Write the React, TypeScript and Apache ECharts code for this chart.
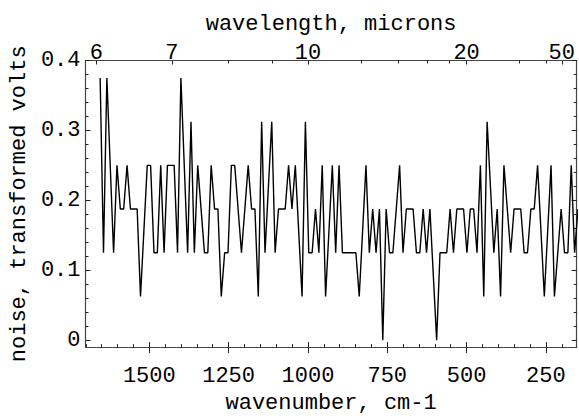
import React, { useEffect, useRef } from "react";
import * as echarts from "echarts";

// ---- data ----
// sample grid of the spectrum (wavenumber, cm-1)
const START_WAVENUMBER = 1654.9;
const STEP_WAVENUMBER = 10.605;
// indices of the polyline vertices on the sample grid
const sampleIndex = [
  0, 1, 2, 4, 5, 6, 7, 8, 9, 11, 12, 14, 15, 16, 17, 18, 19, 20, 22, 23, 24, 26, 27, 28, 29,
  31, 32, 33, 34, 35, 36, 37, 38, 39, 40, 42, 44, 45, 46, 47, 48, 49, 51, 52, 53, 55, 56, 57,
  58, 60, 61, 62, 63, 64, 65, 66, 67, 69, 70, 71, 72, 76, 77, 79, 80, 81, 82, 83, 84, 85, 86,
  87, 89, 90, 91, 93, 94, 95, 96, 97, 98, 100, 101, 103, 104, 105, 106, 108, 109, 110, 111,
  112, 113, 114, 115, 117, 118, 119, 120, 122, 123, 125, 126, 127, 128, 129, 130, 132, 134,
  135, 137, 138, 139, 140, 141, 142,
];
// noise, transformed volts
const noiseValues = [
  0.375, 0.125, 0.375, 0.125, 0.25, 0.1875, 0.1875, 0.25, 0.1875, 0.1875, 0.0625, 0.25, 0.25,
  0.125, 0.125, 0.25, 0.125, 0.25, 0.25, 0.125, 0.375, 0.125, 0.3125, 0.125, 0.25,
  0.125, 0.125, 0.25, 0.1875, 0.1875, 0.0625, 0.125, 0.125, 0.25, 0.25, 0.125, 0.25, 0.1875,
  0.1875, 0.0625, 0.3125, 0.125, 0.3125, 0.125, 0.1875, 0.1875, 0.25, 0.1875,
  0.25, 0.0625, 0.3125, 0.125, 0.125, 0.1875, 0.125, 0.25, 0.0625, 0.25, 0.125, 0.25, 0.125,
  0.125, 0.0625, 0.25, 0.125, 0.1875, 0.125, 0.1875, 0, 0.1875, 0.125,
  0.125, 0.25, 0.125, 0.1875, 0.1875, 0.125, 0.125, 0.1875, 0.125, 0.1875, 0, 0.125, 0.125,
  0.1875, 0.125, 0.1875, 0.1875, 0.125, 0.1875, 0.1875,
  0.125, 0.25, 0.0625, 0.3125, 0.125, 0.1875, 0.0625, 0.25, 0.125, 0.1875, 0.1875, 0.125,
  0.125, 0.1875, 0.1875, 0.25, 0.0625, 0.25,
  0.0625, 0.1875, 0.125, 0.125, 0.25, 0.125, 0.1875,
];

// axis ranges and ticks
const X_MIN = 153;
const X_MAX = 1701;
const Y_MIN = -0.01;
const Y_MAX = 0.4;
const wavenumberLabels = [1500, 1250, 1000, 750, 500, 250];
const wavelengthLabels = [6, 7, 10, 20, 50];
const wavelengthMinor = [8, 9, 12, 14, 16, 18, 30, 40];
const voltLabels = [0, 0.1, 0.2, 0.3, 0.4];

const FONT = "'Liberation Mono', 'DejaVu Sans Mono', monospace";
const FS = 22;

export default function App() {
  const ref = useRef<HTMLDivElement>(null);

  useEffect(() => {
    if (!ref.current) return;
    const chart = echarts.init(ref.current, undefined, { renderer: "svg" });

    const data = sampleIndex.map((i, k) => [
      START_WAVENUMBER - STEP_WAVENUMBER * i,
      noiseValues[k],
    ]);

    const wavenumberMinor: number[] = [];
    for (let v = 200; v <= 1700; v += 50) wavenumberMinor.push(v);
    const voltMinor: number[] = [];
    for (let k = 0; k <= 20; k++) voltMinor.push(Math.round(k * 2) / 100);

    const topMajor = wavelengthLabels.map((l) => 10000 / l);
    const topMinor = wavelengthMinor.map((l) => 10000 / l);

    const baseX = {
      type: "value",
      min: X_MIN,
      max: X_MAX,
      inverse: true,
      splitLine: { show: false },
      axisLine: { show: false, onZero: false },
      axisLabel: { show: false },
    };
    const baseY = {
      type: "value",
      min: Y_MIN,
      max: Y_MAX,
      splitLine: { show: false },
      axisLine: { show: false, onZero: false },
      axisLabel: { show: false },
    };
    const lineStyle = { color: "#222", width: 1 };
    const frameLine = { show: true, onZero: false, lineStyle: { color: "#444", width: 1.2 } };
    const textStyle = { fontFamily: FONT, fontSize: FS, color: "#000" };

    chart.setOption({
      animation: false,
      grid: { left: 83.3, right: 2.3, top: 60.5, bottom: 53.3, containLabel: false },
      xAxis: [
        {
          ...baseX,
          position: "bottom",
          axisLine: frameLine,
          name: "wavenumber, cm-1",
          nameLocation: "middle",
          nameGap: 32,
          nameTextStyle: textStyle,
          axisTick: { show: true, inside: false, length: 6, customValues: wavenumberLabels, lineStyle },
          axisLabel: {
            show: true,
            customValues: wavenumberLabels,
            margin: 18,
            ...textStyle,
            formatter: (v: number) => String(Math.round(v)),
          },
        },
        {
          ...baseX,
          position: "bottom",
          axisTick: { show: true, inside: true, length: 5, customValues: wavenumberLabels, lineStyle },
        },
        {
          ...baseX,
          position: "bottom",
          axisTick: { show: true, inside: true, length: 3, customValues: wavenumberMinor, lineStyle },
        },
        {
          ...baseX,
          position: "top",
          axisLine: frameLine,
          name: "wavelength, microns",
          nameLocation: "middle",
          nameGap: 25,
          nameTextStyle: textStyle,
          axisTick: { show: true, inside: true, length: 4, customValues: topMajor, lineStyle },
          axisLabel: {
            show: true,
            customValues: topMajor,
            margin: -4,
            ...textStyle,
            formatter: (v: number) => String(Math.round(10000 / v)),
          },
        },
        {
          ...baseX,
          position: "top",
          axisTick: { show: true, inside: true, length: 3, customValues: topMinor, lineStyle },
        },
      ],
      yAxis: [
        {
          ...baseY,
          position: "left",
          axisLine: frameLine,
          name: "noise, transformed volts",
          nameLocation: "middle",
          nameGap: 52,
          nameRotate: 90,
          nameTextStyle: textStyle,
          axisTick: { show: true, inside: true, length: 5, customValues: voltLabels, lineStyle },
          axisLabel: {
            show: true,
            customValues: voltLabels,
            margin: 5,
            ...textStyle,
            formatter: (v: number) => (v === 0 ? "0" : v.toFixed(1)),
          },
        },
        {
          ...baseY,
          position: "left",
          axisTick: { show: true, inside: true, length: 3, customValues: voltMinor, lineStyle },
        },
        {
          ...baseY,
          position: "right",
          axisLine: frameLine,
          axisTick: { show: true, inside: true, length: 5, customValues: voltLabels, lineStyle },
        },
        {
          ...baseY,
          position: "right",
          axisTick: { show: true, inside: true, length: 3, customValues: voltMinor, lineStyle },
        },
      ],
      series: [
        {
          type: "line",
          xAxisIndex: 0,
          yAxisIndex: 0,
          data,
          showSymbol: false,
          symbol: "none",
          clip: true,
          lineStyle: { color: "#000", width: 1.4 },
        },
      ],
    });

    return () => chart.dispose();
  }, []);

  return <div ref={ref} style={{ width: 579, height: 419, position: "absolute", left: 0, top: 0 }} />;
}
